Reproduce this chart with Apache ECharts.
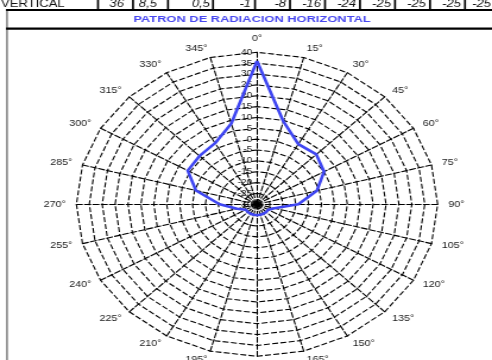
<!DOCTYPE html>
<html>
<head>
<meta charset="utf-8">
<script src="https://cdn.jsdelivr.net/npm/echarts@6/dist/echarts.min.js"></script>
<style>
  html, body { margin: 0; padding: 0; background: #fff; overflow: hidden; }
  #wrap { width: 492px; height: 360px; overflow: hidden; position: relative; background: #fff; }
  /* The sheet is drawn at 414px and widened to 492px, like the stretched spreadsheet picture */
  #chart { width: 414px; height: 360px; transform: scaleX(1.188406); transform-origin: 0 0; }
</style>
</head>
<body>
<div id="wrap"><div id="chart"></div></div>
<script>
// Azimuths, clockwise from north
const azimuths = [0, 15, 30, 45, 60, 75, 90, 105, 120, 135, 150, 165,
                  180, 195, 210, 225, 240, 255, 270, 285, 300, 315, 330, 345];
// Horizontal pattern level at each azimuth
const horizontalLevels = [36, 9.5, 2, 2.5, 0, -6, -14, -23, -25, -25, -25, -25,
                          -25, -25, -25, -25, -25, -22, -15.5, -5.5, 1, 1.5, 2.5, 8.5];
// Radial scale
const radialMin = -30;
const radialMax = 40;
const radialStep = 5;
// Header row of the sheet
const rowHeader = 'VERTICAL';
const verticalLevels = ['36', '8,5', '0,5', '-1', '-8', '-16', '-24', '-25', '-25', '-25', '-25'];
const chartTitle = 'PATRON DE RADIACION HORIZONTAL';

const SX = 492 / 414;            // horizontal stretch of the sheet
const ux = x => x / SX;          // page x -> drawing x
const FONT = '"Liberation Sans", Arial, Helvetica, sans-serif';

// ECharts radar runs counter-clockwise, so feed the azimuths in reverse after north
const order = [0].concat(azimuths.slice(1).map((_, i) => azimuths.length - 1 - i));

const indicators = order.map((idx, k) => {
  const ind = { name: azimuths[idx] + '°', min: radialMin, max: radialMax };
  if (k === 0) {
    ind.axisLabel = {
      show: true, margin: 4, fontSize: 8.5, color: '#1a1a1a', fontFamily: FONT,
      formatter: v => String(v)
    };
  }
  return ind;
});
const seriesValues = order.map(idx => horizontalLevels[idx]);

// Header row layout (page px)
const rowSeparators = [98, 133, 168, 213, 255, 290, 325, 360, 395, 430, 465];
const cellRightEdges = [124, 157, 210, 251, 286, 321, 356, 391, 426, 461, 491];

const graphics = [];
// left frame line
graphics.push({ type: 'rect', shape: { x: ux(6), y: 9, width: ux(2), height: 360 }, style: { fill: '#8c8c8c' }, silent: true });
// thick rules around the title row
graphics.push({ type: 'rect', shape: { x: ux(6), y: 9, width: 414, height: 2 }, style: { fill: '#000' }, silent: true });
graphics.push({ type: 'rect', shape: { x: ux(6), y: 27.5, width: 414, height: 2.2 }, style: { fill: '#000' }, silent: true });
rowSeparators.forEach(sx => {
  graphics.push({ type: 'rect', shape: { x: ux(sx - 1), y: 0, width: ux(2), height: 10 }, style: { fill: '#000' }, silent: true });
});
graphics.push({
  type: 'text', x: ux(1), y: 4.2, silent: true,
  style: { text: rowHeader, font: '11px ' + FONT, fill: '#111', align: 'left', verticalAlign: 'middle' }
});
verticalLevels.forEach((t, i) => {
  graphics.push({
    type: 'text', x: ux(cellRightEdges[i]), y: 4.2, silent: true,
    style: { text: t, font: 'italic 11px ' + FONT, fill: '#111', align: 'right', verticalAlign: 'middle' }
  });
});
graphics.push({
  type: 'text', x: ux(252), y: 19.3, scaleX: 1.14, silent: true,
  style: { text: chartTitle, font: 'bold 9.5px ' + FONT, fill: '#4848f0', align: 'center', verticalAlign: 'middle' }
});

const dash = [5, 2];
const chart = echarts.init(document.getElementById('chart'), null, { renderer: 'canvas' });
chart.setOption({
  backgroundColor: '#fff',
  animation: false,
  graphic: graphics,
  radar: {
    center: [ux(257), 204.3],
    radius: 152,
    startAngle: 90,
    shape: 'polygon',
    splitNumber: (radialMax - radialMin) / radialStep,
    nameGap: 9,
    axisName: { color: '#1a1a1a', fontSize: 9, fontFamily: FONT },
    indicator: indicators,
    axisLine: { show: true, lineStyle: { color: '#000', width: 1.1, type: dash } },
    axisTick: { show: false },
    axisLabel: { show: false },
    splitLine: { show: true, lineStyle: { color: '#000', width: 1.1, type: dash } },
    splitArea: { show: false }
  },
  series: [{
    type: 'radar',
    symbol: 'none',
    silent: true,
    lineStyle: { color: '#3f46f2', width: 2.6 },
    data: [{ value: seriesValues, name: chartTitle }]
  }]
});
</script>
</body>
</html>
